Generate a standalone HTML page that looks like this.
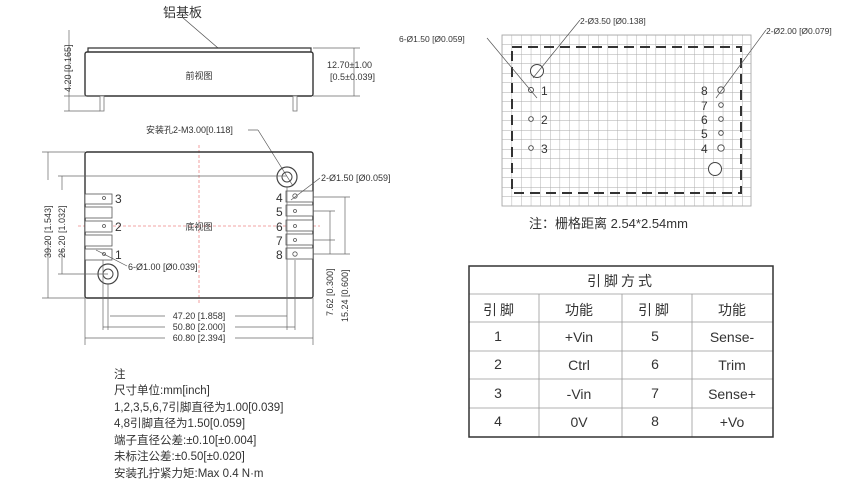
<!DOCTYPE html>
<html><head><meta charset="utf-8"><style>
html,body{margin:0;padding:0;background:#fff;width:864px;height:487px;overflow:hidden}
svg text{font-family:"Liberation Sans","Noto Sans CJK SC",sans-serif;fill:#333}
</style></head><body>
<svg width="864" height="487" viewBox="0 0 864 487" xmlns="http://www.w3.org/2000/svg">
<defs>
<pattern id="g" width="9.6" height="9.5" patternUnits="userSpaceOnUse" x="502" y="35">
<path d="M0 0H9.6M0 0V9.5" stroke="#aaa" stroke-width="0.9" fill="none"/></pattern>
</defs>
<!-- front view -->
<text x="163" y="17" font-size="13">铝基板</text>
<line x1="182" y1="17" x2="218" y2="48" stroke="#555" stroke-width="0.8"/>
<path d="M88 52 L88 48 L311 48 L311 52" fill="none" stroke="#333" stroke-width="1.2"/>
<rect x="85" y="52" width="228" height="44" rx="2" fill="#fff" stroke="#333" stroke-width="1.4"/>
<text x="199" y="79" font-size="9" text-anchor="middle">前视图</text>
<rect x="100" y="96" width="4" height="15" fill="#fff" stroke="#777" stroke-width="0.8"/>
<rect x="293" y="96" width="4" height="15" fill="#fff" stroke="#777" stroke-width="0.8"/>
<g stroke="#666" stroke-width="0.7">
<line x1="64" y1="96" x2="100" y2="96"/><line x1="64" y1="111" x2="100" y2="111"/>
<line x1="69" y1="30" x2="69" y2="111"/>
<line x1="313" y1="48" x2="360" y2="48"/><line x1="313" y1="96" x2="360" y2="96"/>
<line x1="354" y1="48" x2="354" y2="96"/>
</g>
<text transform="translate(71,92) rotate(-90)" font-size="9">4.20 [0.165]</text>
<text x="327" y="68" font-size="9">12.70±1.00</text>
<text x="330" y="80" font-size="9">[0.5±0.039]</text>
<!-- bottom view -->
<text x="146" y="133" font-size="9">安装孔2-M3.00[0.118]</text>
<line x1="248" y1="130" x2="258" y2="130" stroke="#555" stroke-width="0.7"/>
<line x1="258" y1="130" x2="293" y2="186" stroke="#555" stroke-width="0.7"/>
<g stroke="#e88" stroke-width="0.8" stroke-dasharray="3,2">
<line x1="199" y1="145" x2="199" y2="305"/><line x1="78" y1="226" x2="320" y2="226"/></g>
<rect x="85" y="152" width="228" height="146" rx="2" fill="none" stroke="#333" stroke-width="1.4"/>
<text x="199" y="230" font-size="9" text-anchor="middle">底视图</text>
<circle cx="287" cy="177" r="10" fill="none" stroke="#444" stroke-width="1.2"/>
<circle cx="287" cy="177" r="5" fill="none" stroke="#444" stroke-width="1"/>
<circle cx="108" cy="274" r="10" fill="none" stroke="#444" stroke-width="1.2"/>
<circle cx="108" cy="274" r="5" fill="none" stroke="#444" stroke-width="1"/>
<g fill="#fff" stroke="#555" stroke-width="0.8">
<rect x="85" y="194" width="27" height="10"/><rect x="85" y="207" width="27" height="11"/>
<rect x="85" y="221" width="27" height="11"/><rect x="85" y="235" width="27" height="11"/>
<rect x="85" y="249" width="27" height="11"/>
<rect x="286" y="191" width="27" height="11"/><rect x="286" y="205" width="27" height="11"/>
<rect x="286" y="220" width="27" height="11"/><rect x="286" y="234" width="27" height="11"/>
<rect x="286" y="248" width="27" height="11"/>
<circle cx="104" cy="198" r="1.5"/><circle cx="104" cy="226" r="1.5"/><circle cx="104" cy="254" r="1.5"/>
<circle cx="295" cy="196" r="2.2"/><circle cx="295" cy="211" r="1.5"/><circle cx="295" cy="226" r="1.5"/><circle cx="295" cy="240" r="1.5"/><circle cx="295" cy="254" r="2.2"/>
</g>
<g font-size="12">
<text x="115" y="203">3</text><text x="115" y="231">2</text><text x="115" y="259">1</text>
<text x="276" y="202">4</text><text x="276" y="216">5</text><text x="276" y="231">6</text><text x="276" y="245">7</text><text x="276" y="259">8</text>
</g>
<text x="128" y="270" font-size="9">6-Ø1.00 [Ø0.039]</text>
<line x1="96" y1="250" x2="127" y2="266" stroke="#555" stroke-width="0.7"/>
<text x="321" y="181" font-size="9">2-Ø1.50 [Ø0.059]</text>
<line x1="320" y1="178" x2="291" y2="200" stroke="#555" stroke-width="0.7"/>
<g stroke="#666" stroke-width="0.7">
<line x1="42" y1="152" x2="85" y2="152"/><line x1="42" y1="298" x2="85" y2="298"/>
<line x1="48" y1="152" x2="48" y2="298"/>
<line x1="58" y1="176" x2="287" y2="176"/><line x1="58" y1="274" x2="108" y2="274"/>
<line x1="62" y1="176" x2="62" y2="274"/>
<line x1="85" y1="298" x2="85" y2="345"/><line x1="313" y1="298" x2="313" y2="345"/>
<line x1="108" y1="284" x2="108" y2="330"/><line x1="287" y1="187" x2="287" y2="330"/>
<line x1="103" y1="260" x2="103" y2="330"/><line x1="295" y1="260" x2="295" y2="330"/>
<line x1="110" y1="316" x2="287" y2="316"/>
<line x1="103" y1="327" x2="295" y2="327"/>
<line x1="85" y1="338" x2="313" y2="338"/>
<line x1="313" y1="197" x2="350" y2="197"/><line x1="313" y1="211" x2="335" y2="211"/>
<line x1="313" y1="240" x2="335" y2="240"/><line x1="313" y1="254" x2="350" y2="254"/>
<line x1="330" y1="211" x2="330" y2="254"/><line x1="345" y1="197" x2="345" y2="254"/>
</g>
<rect x="165" y="311" width="70" height="10" fill="#fff"/>
<rect x="165" y="322" width="70" height="10" fill="#fff"/>
<rect x="165" y="333" width="70" height="10" fill="#fff"/>
<g font-size="9" text-anchor="middle">
<text x="199" y="319">47.20 [1.858]</text>
<text x="199" y="330">50.80 [2.000]</text>
<text x="199" y="341">60.80 [2.394]</text>
</g>
<rect x="43" y="180" width="10" height="60" fill="#fff"/>
<rect x="57" y="190" width="10" height="60" fill="#fff"/>
<text transform="translate(51,258) rotate(-90)" font-size="9">39.20 [1.543]</text>
<text transform="translate(65,258) rotate(-90)" font-size="9">26.20 [1.032]</text>
<text transform="translate(333,316) rotate(-90)" font-size="9">7.62 [0.300]</text>
<text transform="translate(348,322) rotate(-90)" font-size="9">15.24 [0.600]</text>
<!-- notes -->
<g font-size="11.5">
<text x="114" y="378">注</text>
<text x="114" y="394">尺寸单位:mm[inch]</text>
<text x="114" y="411">1,2,3,5,6,7引脚直径为1.00[0.039]</text>
<text x="114" y="427">4,8引脚直径为1.50[0.059]</text>
<text x="114" y="444">端子直径公差:±0.10[±0.004]</text>
<text x="114" y="460">未标注公差:±0.50[±0.020]</text>
<text x="114" y="477">安装孔拧紧力矩:Max 0.4 N·m</text>
</g>
<!-- grid -->
<rect x="502" y="35" width="249" height="171" fill="url(#g)" stroke="#aaa" stroke-width="0.9"/>
<rect x="512" y="47" width="229" height="146" fill="none" stroke="#333" stroke-width="2" stroke-dasharray="10,6"/>
<circle cx="537" cy="71" r="6.5" fill="#fff" stroke="#444" stroke-width="1"/>
<circle cx="715" cy="169" r="6.5" fill="#fff" stroke="#444" stroke-width="1"/>
<g fill="#fff" stroke="#444" stroke-width="0.9">
<circle cx="531" cy="90" r="2.5"/><circle cx="531" cy="119" r="2.3"/><circle cx="531" cy="148" r="2.3"/>
<circle cx="721" cy="90" r="3.2"/><circle cx="721" cy="105" r="2.3"/><circle cx="721" cy="119" r="2.3"/><circle cx="721" cy="133" r="2.3"/><circle cx="721" cy="148" r="3.2"/>
</g>
<g font-size="12">
<text x="541" y="95">1</text><text x="541" y="124">2</text><text x="541" y="153">3</text>
<text x="701" y="95">8</text><text x="701" y="110">7</text><text x="701" y="124">6</text><text x="701" y="138">5</text><text x="701" y="153">4</text>
</g>
<g font-size="8.5">
<text x="399" y="42">6-Ø1.50 [Ø0.059]</text>
<text x="580" y="24">2-Ø3.50 [Ø0.138]</text>
<text x="766" y="34">2-Ø2.00 [Ø0.079]</text>
</g>
<g stroke="#555" stroke-width="0.7">
<line x1="487" y1="38" x2="537" y2="98"/>
<line x1="580" y1="20" x2="533" y2="78"/>
<line x1="766" y1="30" x2="716" y2="98"/>
</g>
<text x="529" y="228" font-size="13">注：栅格距离 2.54*2.54mm</text>
<!-- table -->
<g stroke="#999" stroke-width="0.8">
<line x1="469" y1="294" x2="773" y2="294"/><line x1="469" y1="322" x2="773" y2="322"/>
<line x1="469" y1="351" x2="773" y2="351"/><line x1="469" y1="379" x2="773" y2="379"/>
<line x1="469" y1="408" x2="773" y2="408"/>
<line x1="539" y1="294" x2="539" y2="437"/><line x1="622" y1="294" x2="622" y2="437"/><line x1="692" y1="294" x2="692" y2="437"/>
</g>
<rect x="469" y="266" width="304" height="171" fill="none" stroke="#333" stroke-width="1.5"/>
<g font-size="14" text-anchor="middle">
<text x="621" y="286" letter-spacing="3">引脚方式</text>
<text x="500" y="315" letter-spacing="3">引脚</text><text x="579" y="315">功能</text>
<text x="655" y="315" letter-spacing="3">引脚</text><text x="732" y="315">功能</text>
<text x="498" y="341">1</text><text x="579" y="342">+Vin</text><text x="655" y="341">5</text><text x="732" y="342">Sense-</text>
<text x="498" y="369">2</text><text x="579" y="370">Ctrl</text><text x="655" y="369">6</text><text x="732" y="370">Trim</text>
<text x="498" y="398">3</text><text x="579" y="399">-Vin</text><text x="655" y="398">7</text><text x="732" y="399">Sense+</text>
<text x="498" y="426">4</text><text x="579" y="427">0V</text><text x="655" y="426">8</text><text x="732" y="427">+Vo</text>
</g>
</svg>
</body></html>
